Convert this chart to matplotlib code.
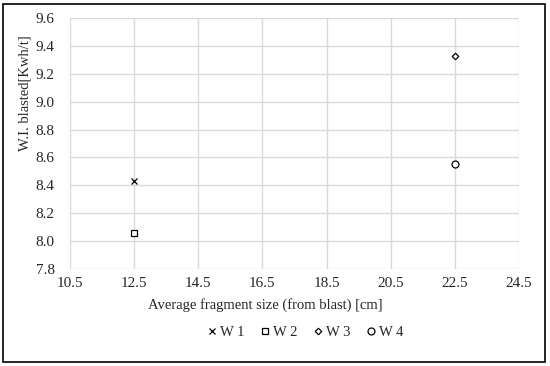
import matplotlib.pyplot as plt
from matplotlib.patches import Rectangle

plt.rcParams['font.family'] = ['Liberation Serif', 'DejaVu Serif']

# Data
series_names = ['W 1', 'W 2', 'W 3', 'W 4']
fragment_size = [12.5, 12.5, 22.5, 22.5]
wi_blasted = [8.43, 8.06, 9.33, 8.55]
markers = ['x', 's', 'D', 'o']
marker_sizes = [4.5, 4.6, 3.3, 5.0]

x_ticks = [10.5, 12.5, 14.5, 16.5, 18.5, 20.5, 22.5, 24.5]
y_ticks = [7.8, 8.0, 8.2, 8.4, 8.6, 8.8, 9.0, 9.2, 9.4, 9.6]

W, H = 550, 366
txt_color = '#262626'

fig = plt.figure(figsize=(5.5, 3.66), dpi=100)
ax = fig.add_axes([70 / W, 1 - 269 / H, (519 - 70) / W, (269 - 18) / H])

for name, x, y, m, ms in zip(series_names, fragment_size, wi_blasted, markers, marker_sizes):
    ax.plot([x], [y], linestyle='none', marker=m, markersize=ms,
            markerfacecolor='white', markeredgecolor='black', markeredgewidth=0.9,
            color='black', label=name, zorder=3)

ax.set_xlim(x_ticks[0], x_ticks[-1])
ax.set_ylim(y_ticks[0], y_ticks[-1])
ax.set_xticks(x_ticks)
ax.set_yticks(y_ticks)
ax.set_xticklabels([f'{v:.1f}' for v in x_ticks])
ax.set_yticklabels([f'{v:.1f}' for v in y_ticks])
ax.tick_params(length=0, labelsize=11, colors=txt_color, pad=6)
ax.tick_params(axis='y', pad=11)
ax.grid(True, color='#d9d9d9', linewidth=1)
ax.set_axisbelow(True)
for s in ax.spines.values():
    s.set_visible(False)

fig.text(265 / W, 1 - 305 / H, 'Average fragment size (from blast) [cm]', fontsize=10.5,
         color=txt_color, ha='center', va='center')
fig.text(25 / W, 1 - 93 / H, 'W.I. blasted[Kwh/t]', fontsize=10.5, rotation=90,
         color=txt_color, ha='center', va='center')

fig.legend(loc='center', bbox_to_anchor=(305 / W, 1 - 332 / H), ncol=4, frameon=False,
           fontsize=10.5, handletextpad=0.15, columnspacing=1.0, handlelength=0.8,
           labelcolor=txt_color)

fig.patches.append(Rectangle((3 / W, 4 / H), 542 / W, 358 / H, transform=fig.transFigure,
                             fill=False, edgecolor='black', linewidth=1.2))

fig.savefig('out.png', dpi=100)
